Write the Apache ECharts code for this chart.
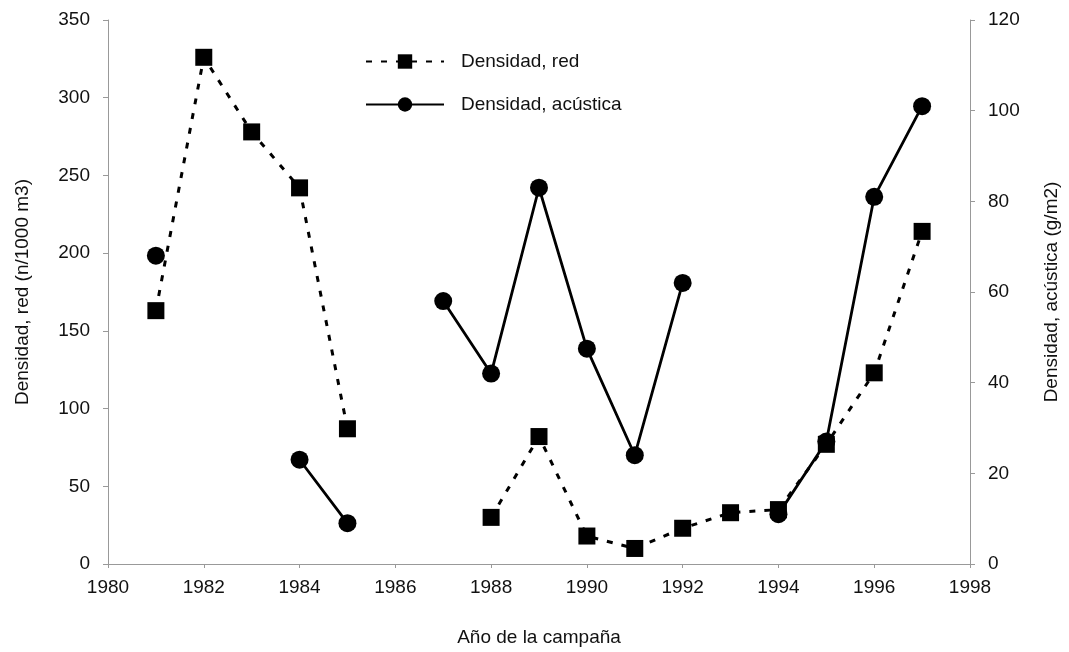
<!DOCTYPE html>
<html>
<head>
<meta charset="utf-8">
<script src="https://cdn.jsdelivr.net/npm/echarts@6/dist/echarts.min.js"></script>
<style>
html,body{margin:0;padding:0;background:#fff;}
#chart{width:1069px;height:652px;}
</style>
</head>
<body>
<div id="chart"></div>
<script>
// Data
var years = [1981,1982,1983,1984,1985,1986,1987,1988,1989,1990,1991,1992,1993,1994,1995,1996,1997];
var densidadRed = [163,326,278,242,87,null,null,30,82,18,10,23,33,35,77,123,214];
var densidadAcustica = [68,null,null,23,9,null,58,42,83,47.5,24,62,null,11,27,81,101];
var seriesNames = ['Densidad, red', 'Densidad, acústica'];
var xName = 'Año de la campaña';
var yLeftName = 'Densidad, red (n/1000 m3)';
var yRightName = 'Densidad, acústica (g/m2)';

function pairs(xs, ys) {
  return xs.map(function (x, i) { return [x, ys[i] == null ? '-' : ys[i]]; });
}

var font = 'Liberation Sans, Arial, sans-serif';
var txt = '#111';
var axisGray = '#999';
var fs = 19;

var chart = echarts.init(document.getElementById('chart'), null, {renderer: 'canvas'});
chart.setOption({
  animation: false,
  backgroundColor: '#fff',
  textStyle: {fontFamily: font, color: txt},
  grid: {left: 108, right: 96, top: 20, bottom: 86, containLabel: false},
  legend: {
    orient: 'vertical',
    left: 360,
    top: 47,
    itemWidth: 78,
    itemHeight: 18,
    itemGap: 24,
    textStyle: {fontFamily: font, fontSize: fs, color: txt, padding: [0, 0, 0, 12]},
    data: seriesNames
  },
  xAxis: {
    type: 'value',
    min: 1980, max: 1998, interval: 2,
    name: xName,
    nameLocation: 'middle',
    nameGap: 64,
    nameTextStyle: {fontFamily: font, fontSize: fs, color: txt},
    axisLine: {show: true, lineStyle: {color: axisGray, width: 1}},
    axisTick: {show: true, length: 4, lineStyle: {color: axisGray}},
    axisLabel: {fontFamily: font, fontSize: fs, color: txt, margin: 14, formatter: function (v) { return String(v); }},
    splitLine: {show: false}
  },
  yAxis: [{
    type: 'value',
    min: 0, max: 350, interval: 50,
    name: yLeftName,
    nameLocation: 'middle',
    nameRotate: 90,
    nameGap: 76,
    nameTextStyle: {fontFamily: font, fontSize: fs, color: txt},
    axisLine: {show: true, lineStyle: {color: axisGray, width: 1}},
    axisTick: {show: true, length: 5, lineStyle: {color: axisGray}},
    axisLabel: {fontFamily: font, fontSize: fs, color: txt, margin: 18},
    splitLine: {show: false}
  }, {
    type: 'value',
    position: 'right',
    min: 0, max: 120, interval: 20,
    name: yRightName,
    nameLocation: 'middle',
    nameRotate: 90,
    nameGap: 72,
    nameTextStyle: {fontFamily: font, fontSize: fs, color: txt},
    axisLine: {show: true, lineStyle: {color: axisGray, width: 1}},
    axisTick: {show: true, length: 5, lineStyle: {color: axisGray}},
    axisLabel: {fontFamily: font, fontSize: fs, color: txt, margin: 18},
    splitLine: {show: false}
  }],
  series: [{
    name: seriesNames[0],
    type: 'line',
    yAxisIndex: 0,
    data: pairs(years, densidadRed),
    connectNulls: false,
    symbol: 'rect',
    symbolSize: 17,
    itemStyle: {color: '#000'},
    lineStyle: {color: '#000', width: 3, type: [6, 9]},
    z: 3
  }, {
    name: seriesNames[1],
    type: 'line',
    yAxisIndex: 1,
    data: pairs(years, densidadAcustica),
    connectNulls: false,
    symbol: 'circle',
    symbolSize: 18,
    itemStyle: {color: '#000'},
    lineStyle: {color: '#000', width: 2.8, type: 'solid'},
    z: 4
  }]
});
</script>
</body>
</html>
